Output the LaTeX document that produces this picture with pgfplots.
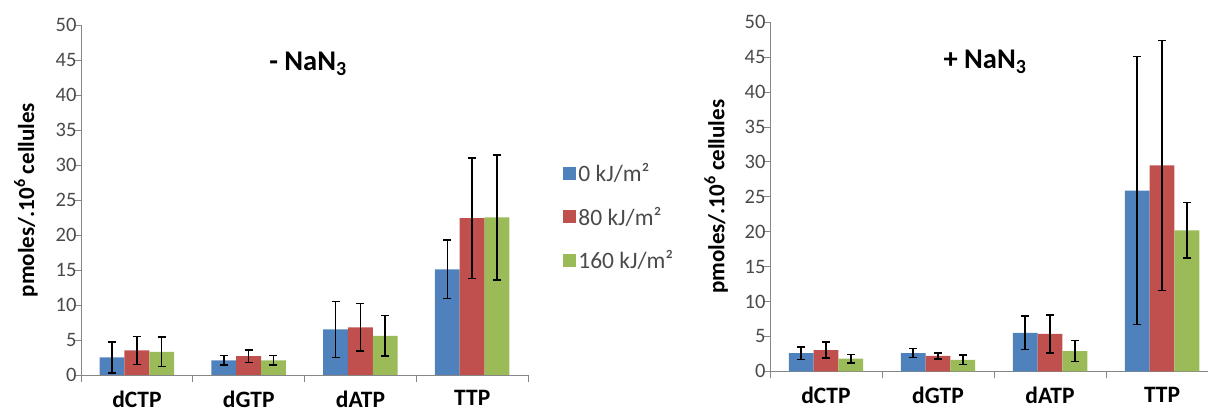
\documentclass[border=0pt]{standalone}
\usepackage{fontspec}
\setmainfont{Carlito}
\usepackage{pgfplots}
\pgfplotsset{compat=1.18}
\definecolor{xblue}{HTML}{4F81BD}
\definecolor{xred}{HTML}{C0504D}
\definecolor{xgreen}{HTML}{9BBB59}
\definecolor{axisgray}{HTML}{868686}
\definecolor{ticktext}{HTML}{4A4A4A}

\pgfplotsset{
  excelbar/.style={
    scale only axis, height=350pt,
    ybar=0pt, bar width=24.8pt,
    ymin=0, ymax=50, ytick={0,5,...,50},
    xmin=-0.5,
    xtick={-0.5,0.5,1.5,2.5,3.5},
    xticklabels={dCTP,dGTP,dATP,TTP,{}},
    axis x line*=bottom, axis y line*=left,
    axis line style={axisgray, line width=0.9pt},
    tick style={axisgray, line width=0.9pt},
    tick align=outside, major tick length=7pt,
    /pgf/number format/assume math mode=true,
    yticklabel style={font=\fontsize{20.5}{24}\selectfont, text=ticktext, xshift=6pt},
    xticklabel style={font=\bfseries\fontsize{23.5}{27}\selectfont, xshift=56pt, yshift=-5pt, text=black},
    ylabel={pmoles/.10\textsuperscript{6} cellules},
    every axis y label/.style={at={(axis description cs:-0.123,0.5)}, rotate=90, anchor=center, font=\bfseries\fontsize{23}{27}\selectfont},
    error bars/y dir=both, error bars/y explicit,
    error bars/error bar style={draw=black, solid, line width=1.6pt},
    error bars/error mark options={draw=black, solid, line width=1.6pt, mark size=4pt, rotate=90},
    legend image code/.code={\fill[##1] (0pt,-6.5pt) rectangle (13pt,6.5pt);},
  }
}

\begin{document}
\begin{tikzpicture}
\useasboundingbox (0pt,0pt) rectangle (1208pt,414pt);

\begin{axis}[excelbar, width=447pt, xmax=3.5,
  at={(81pt,39pt)}, anchor=south west,
  legend style={at={(axis description cs:1.072,0.452)}, anchor=west, draw=none, fill=none,
    font=\fontsize{23.5}{27}\selectfont, text=ticktext, row sep=20pt},
  legend cell align=left]
\addplot[fill=xblue, draw=none] coordinates {(0,2.5) +- (0,2.2) (1,2.1) +- (0,0.7) (2,6.5) +- (0,4.0) (3,15.1) +- (0,4.2)};
\addplot[fill=xred, draw=none] coordinates {(0,3.5) +- (0,2.0) (1,2.7) +- (0,0.9) (2,6.8) +- (0,3.4) (3,22.4) +- (0,8.6)};
\addplot[fill=xgreen, draw=none] coordinates {(0,3.3) +- (0,2.1) (1,2.1) +- (0,0.7) (2,5.6) +- (0,2.9) (3,22.5) +- (0,8.9)};
\legend{0 kJ/m², 80 kJ/m², 160 kJ/m²}
\end{axis}

\begin{axis}[excelbar, width=438pt, xmax=3.41,
  at={(770pt,42.7pt)}, anchor=south west, height=349pt]
\addplot[fill=xblue, draw=none] coordinates {(0,2.6) +- (0,0.9) (1,2.6) +- (0,0.65) (2,5.5) +- (0,2.4) (3,25.9) +- (0,19.2)};
\addplot[fill=xred, draw=none] coordinates {(0,3.05) +- (0,1.15) (1,2.2) +- (0,0.45) (2,5.35) +- (0,2.7) (3,29.5) +- (0,17.9)};
\addplot[fill=xgreen, draw=none] coordinates {(0,1.8) +- (0,0.6) (1,1.65) +- (0,0.65) (2,2.9) +- (0,1.5) (3,20.2) +- (0,4.0)};
\end{axis}

\node[font=\bfseries\fontsize{28.5}{32}\selectfont] at (308pt,350pt) {- NaN\textsubscript{3}};
\node[font=\bfseries\fontsize{28.5}{32}\selectfont] at (985pt,352pt) {+ NaN\textsubscript{3}};
\end{tikzpicture}
\end{document}
